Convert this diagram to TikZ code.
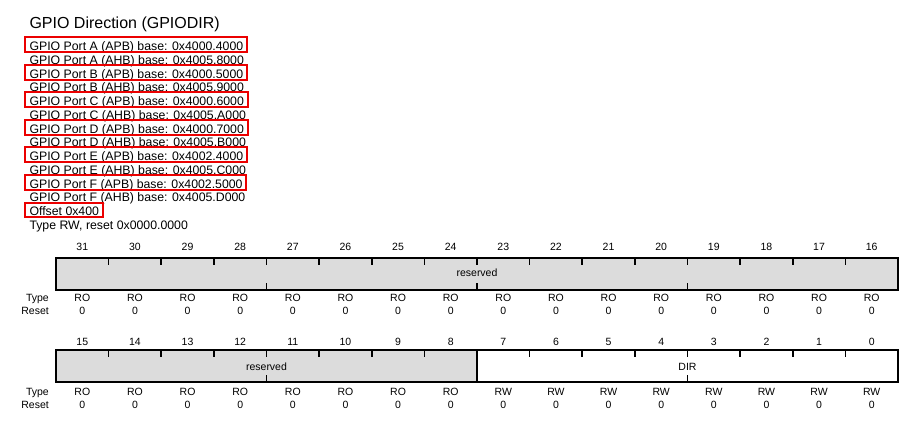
\documentclass[tikz,border=0pt]{standalone}
\usepackage{fontspec}
\setmainfont{Liberation Sans}
\usetikzlibrary{calc}
\definecolor{regfill}{RGB}{220,220,220}
\definecolor{boxred}{RGB}{235,0,0}
\begin{document}
\begin{tikzpicture}[x=1pt,y=-1pt,
  titletext/.style={anchor=base west, inner sep=0pt, font=\fontsize{16}{18}\selectfont},
  addr/.style={anchor=base west, inner sep=0pt, font=\fontsize{12.3}{14}\selectfont},
  redbox/.style={draw=boxred, line width=2pt},
  small/.style={anchor=base, inner sep=0pt, font=\fontsize{10.5}{12}\selectfont},
  rowlabel/.style={anchor=base east, inner sep=0pt, font=\fontsize{10.5}{12}\selectfont},
  field/.style={draw=black, line width=1.6pt, rectangle, inner sep=0pt, minimum height=32pt},
  tick/.style={line width=1.6pt},
]
\useasboundingbox (0,0) rectangle (915,429);

% title and address lines
\node[titletext] (title) at (29.3,28.3) {GPIO Direction (GPIODIR)};
\def\lh{13.77}
\node[addr] (l0)  at (29.3,50.5+0*\lh) {GPIO Port A (APB) base: 0x4000.4000};
\node[addr] (l1)  at (29.3,50.5+1*\lh) {GPIO Port A (AHB) base: 0x4005.8000};
\node[addr] (l2)  at (29.3,50.5+2*\lh) {GPIO Port B (APB) base: 0x4000.5000};
\node[addr] (l3)  at (29.3,50.5+3*\lh) {GPIO Port B (AHB) base: 0x4005.9000};
\node[addr] (l4)  at (29.3,50.5+4*\lh) {GPIO Port C (APB) base: 0x4000.6000};
\node[addr] (l5)  at (29.3,50.5+5*\lh) {GPIO Port C (AHB) base: 0x4005.A000};
\node[addr] (l6)  at (29.3,50.5+6*\lh) {GPIO Port D (APB) base: 0x4000.7000};
\node[addr] (l7)  at (29.3,50.5+7*\lh) {GPIO Port D (AHB) base: 0x4005.B000};
\node[addr] (l8)  at (29.3,50.5+8*\lh) {GPIO Port E (APB) base: 0x4002.4000};
\node[addr] (l9)  at (29.3,50.5+9*\lh) {GPIO Port E (AHB) base: 0x4005.C000};
\node[addr] (l10) at (29.3,50.5+10*\lh) {GPIO Port F (APB) base: 0x4002.5000};
\node[addr] (l11) at (29.3,50.5+11*\lh) {GPIO Port F (AHB) base: 0x4005.D000};
\node[addr] (l12) at (29.3,50.5+12*\lh) {Offset 0x400};
\node[addr] (l13) at (29.3,50.5+13*\lh) {Type RW, reset 0x0000.0000};

% red highlight boxes
\foreach \n in {l0,l2,l4,l6,l8,l10,l12} {
  \draw[redbox] ($(\n.base west)+(-4.3,-13.2)$) rectangle ($(\n.base east)+(3.5,1.7)$);
}

% register 1 (bits 31..16)
\node[field, fill=regfill, minimum width=842pt] (r1res) at (477,274) {};
\node[small] (r1reslbl) at (477,276.7) {reserved};
% register 2 (bits 15..0)
\node[field, fill=regfill, minimum width=421pt] (r2res) at (266.5,366.2) {};
\node[field, fill=white, minimum width=421pt] (r2dir) at (687.5,366.2) {};
\node[small] (r2reslbl) at (266.5,370.3) {reserved};
\node[small] (r2dirlbl) at (687.5,370.5) {DIR};

% ticks
\foreach \k in {1,...,15} {
  \draw[tick] (56+\k*52.625,258) -- ++(0,6.5);
  \draw[tick] (56+\k*52.625,350.2) -- ++(0,6.5);
}
\foreach \k in {4,8,12} {
  \draw[tick] (56+\k*52.625,290) -- ++(0,-7);
}
\foreach \k in {4,12} {
  \draw[tick] (56+\k*52.625,382.2) -- ++(0,-7);
}

% row labels
\node[rowlabel] (t1) at (49,301.7) {Type};
\node[rowlabel] (s1) at (49,314.7) {Reset};
\node[rowlabel] (t2) at (49,395) {Type};
\node[rowlabel] (s2) at (49,408.5) {Reset};

% bit numbers, types, resets
\foreach \i in {0,...,15} {
  \pgfmathsetmacro\cx{56+(\i+0.5)*52.625}
  \pgfmathtruncatemacro\hb{31-\i}
  \pgfmathtruncatemacro\lb{15-\i}
  \node[small] (bn\hb) at (\cx,250.7) {\hb};
  \node[small] (ty\hb) at (\cx,301.7) {RO};
  \node[small] (rs\hb) at (\cx,314.7) {0};
  \node[small] (bn\lb) at (\cx,345) {\lb};
  \ifnum\i<8
    \node[small] (ty\lb) at (\cx,395) {RO};
  \else
    \node[small] (ty\lb) at (\cx,395) {RW};
  \fi
  \node[small] (rs\lb) at (\cx,408.5) {0};
}
\end{tikzpicture}
\end{document}
